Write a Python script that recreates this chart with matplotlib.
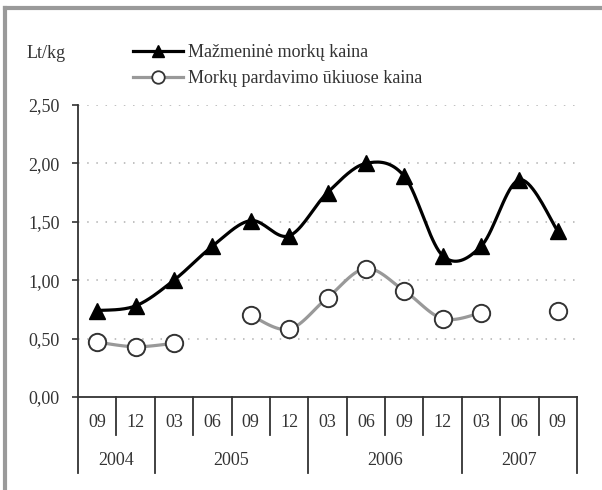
import numpy as np
import matplotlib.pyplot as plt
from matplotlib.lines import Line2D
from matplotlib.ticker import FuncFormatter
import matplotlib.transforms as mtransforms

plt.rcParams['font.family'] = ['Liberation Serif', 'DejaVu Serif']

menesiai = ['09', '12', '03', '06', '09', '12', '03', '06', '09', '12', '03', '06', '09']
metai = ['2004', '2005', '2006', '2007']
metu_ilgis = [2, 4, 4, 3]
mazmenine = [0.74, 0.78, 1.00, 1.29, 1.51, 1.38, 1.75, 2.00, 1.89, 1.21, 1.29, 1.86, 1.42]
ukiuose = [0.47, 0.43, 0.46, np.nan, 0.70, 0.58, 0.85, 1.10, 0.91, 0.67, 0.72, np.nan, 0.74]


def glotni(x, y, n=20):
    # Catmull-Rom kreive tarp tasku, kaip Excel "smoothed line"
    x = np.asarray(x, float)
    y = np.asarray(y, float)
    if len(x) < 2:
        return x, y
    px = np.concatenate([[x[0]], x, [x[-1]]])
    py = np.concatenate([[y[0]], y, [y[-1]]])
    xs, ys = [], []
    t = np.linspace(0, 1, n)
    for i in range(1, len(px) - 2):
        p0, p1, p2, p3 = [np.array([px[j], py[j]]) for j in (i - 1, i, i + 1, i + 2)]
        c1 = p1 + (p2 - p0) / 6
        c2 = p2 - (p3 - p1) / 6
        pts = ((1 - t) ** 3)[:, None] * p1 + (3 * (1 - t) ** 2 * t)[:, None] * c1 \
            + (3 * (1 - t) * t ** 2)[:, None] * c2 + (t ** 3)[:, None] * p2
        xs.extend(pts[:, 0])
        ys.extend(pts[:, 1])
    return np.array(xs), np.array(ys)


fig = plt.figure(figsize=(6.02, 4.90), dpi=100)
ax = fig.add_axes([78 / 602, 93 / 490, 499 / 602, 292 / 490])

x = np.arange(len(menesiai))

# grid
for v in [0.5, 1.0, 1.5, 2.0, 2.5]:
    ax.axhline(v, color='#b0b0b0', lw=1.1, ls=(0, (1, 5)), zorder=0)

# mazmenine kaina
sx, sy = glotni(x, mazmenine)
ax.plot(sx, sy, color='black', lw=2.3, zorder=2, solid_capstyle='round')
ax.plot(x, mazmenine, ls='none', marker='^', ms=12, color='black', zorder=3)

# ukiuose - dalimis, nes yra tarpu
u = np.array(ukiuose)
ok = ~np.isnan(u)
seg = []
for i in range(len(u)):
    if ok[i]:
        seg.append(i)
    if (not ok[i] or i == len(u) - 1) and seg:
        sx, sy = glotni(x[seg], u[seg])
        ax.plot(sx, sy, color='#999999', lw=2.3, zorder=2)
        seg = []
ax.plot(x, u, ls='none', marker='o', ms=12.5, mfc='white', mec='#333333',
        mew=1.4, zorder=3)

ax.set_xlim(-0.5, 12.5)
ax.set_ylim(0, 2.5)
ax.set_yticks([0, 0.5, 1.0, 1.5, 2.0, 2.5])
ax.yaxis.set_major_formatter(FuncFormatter(lambda v, p: '{:.2f}'.format(v).replace('.', ',')))
ax.tick_params(axis='y', length=4, width=1.2, labelsize=13, pad=9, colors='#333333')
ax.set_xticks([])
for s in ['top', 'right']:
    ax.spines[s].set_visible(False)
ax.spines['left'].set_bounds(-0.26 * 2.5, 2.5)
ax.spines['left'].set_color('#333333')
ax.spines['left'].set_linewidth(1.3)
ax.spines['bottom'].set_color('#333333')
ax.spines['bottom'].set_linewidth(1.3)

# kategoriju asis
tr = mtransforms.blended_transform_factory(ax.transData, ax.transAxes)
for i, m in enumerate(menesiai):
    ax.text(i, -0.089, m, transform=tr, ha='center', va='center', fontsize=13, color='#333333')
ribos = np.cumsum([0] + metu_ilgis) - 0.5
for k in range(1, len(menesiai) + 1):
    xp = k - 0.5
    if xp in ribos:
        ax.add_line(Line2D([xp, xp], [0, -0.26], transform=tr, color='#333333', lw=1.3, clip_on=False))
    else:
        ax.add_line(Line2D([xp, xp], [0, -0.13], transform=tr, color='#333333', lw=1.3, clip_on=False))
for j, y in enumerate(metai):
    ax.text((ribos[j] + ribos[j + 1]) / 2, -0.216, y, transform=tr, ha='center', va='center',
            fontsize=13, color='#333333')

fig.text(27 / 602, 1 - 54 / 490, 'Lt/kg', fontsize=13, va='center', ha='left', color='#333333')

# legenda
h1 = Line2D([], [], color='black', lw=2.3, marker='^', ms=9)
h2 = Line2D([], [], color='#999999', lw=2.3, marker='o', ms=9, mfc='white', mec='#333333', mew=1.3)
leg = fig.legend([h1, h2], ['Mažmeninė morkų kaina', 'Morkų pardavimo ūkiuose kaina'],
                 loc='upper left', bbox_to_anchor=(133 / 602, 1 - 44 / 490), frameon=False,
                 fontsize=13, handlelength=2.75, handletextpad=0.3, labelspacing=0.5,
                 borderaxespad=0, borderpad=0)
for t in leg.get_texts():
    t.set_color('#333333')

# remelis
fig.add_artist(Line2D([5 / 602, 5 / 602], [0, 1 - 8 / 490], color='#9a9a9a', lw=3))
fig.add_artist(Line2D([5 / 602, 1], [1 - 8 / 490, 1 - 8 / 490], color='#9a9a9a', lw=3))

fig.savefig('out.png', dpi=100)
